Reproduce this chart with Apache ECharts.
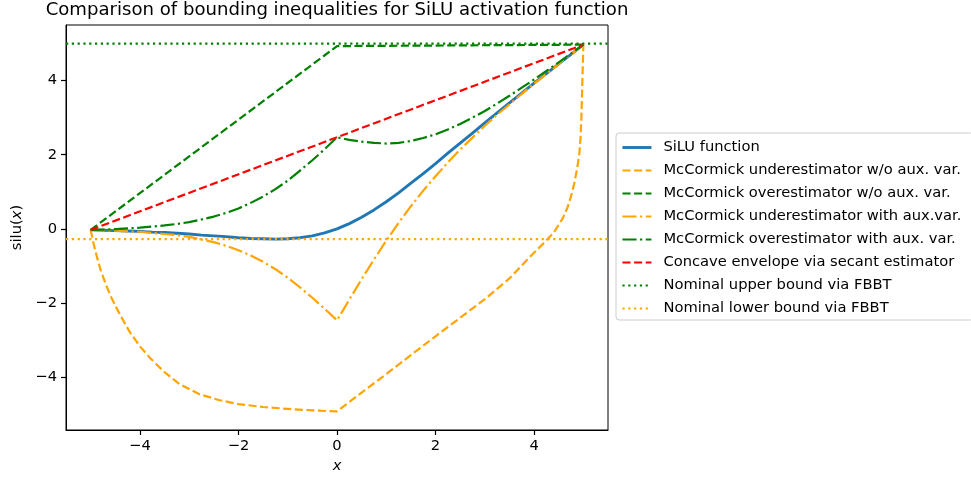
<!DOCTYPE html>
<html>
<head>
<meta charset="utf-8">
<title>SiLU bounding inequalities</title>
<script src="https://cdn.jsdelivr.net/npm/echarts@6/dist/echarts.min.js"></script>
<style>
  html, body { margin: 0; padding: 0; background: #fff; }
  #chart { width: 971px; height: 479px; }
</style>
</head>
<body>
<div id="chart"></div>
<script>
// x grid shared by the smooth curves (step 0.25)
const xGrid = [-5, -4.75, -4.5, -4.25, -4, -3.75, -3.5, -3.25, -3, -2.75, -2.5, -2.25, -2, -1.75, -1.5, -1.25, -1, -0.75, -0.5, -0.25,
  0, 0.25, 0.5, 0.75, 1, 1.25, 1.5, 1.75, 2, 2.25, 2.5, 2.75, 3, 3.25, 3.5, 3.75, 4, 4.25, 4.5, 4.75, 5];

const siluY = [-0.03, -0.04, -0.05, -0.06, -0.07, -0.09, -0.10, -0.12, -0.14, -0.17, -0.19, -0.21, -0.24, -0.26, -0.27, -0.28, -0.27, -0.24, -0.19, -0.11,
  0, 0.14, 0.31, 0.51, 0.73, 0.97, 1.23, 1.49, 1.76, 2.04, 2.31, 2.58, 2.86, 3.13, 3.40, 3.66, 3.93, 4.19, 4.45, 4.71, 4.97];

// McCormick with aux. variable
const overAuxY = [-0.03, -0.02, -0.01, 0.01, 0.03, 0.06, 0.09, 0.13, 0.18, 0.25, 0.33, 0.43, 0.55, 0.70, 0.87, 1.07, 1.30, 1.57, 1.85, 2.15,
  2.47, 2.40, 2.35, 2.32, 2.30, 2.32, 2.37, 2.45, 2.55, 2.68, 2.83, 3.00, 3.18, 3.38, 3.59, 3.81, 4.03, 4.26, 4.49, 4.73, 4.97];
const underAuxY = [-0.03, -0.04, -0.05, -0.07, -0.08, -0.11, -0.14, -0.17, -0.22, -0.29, -0.36, -0.46, -0.58, -0.72, -0.89, -1.09, -1.32, -1.58, -1.86, -2.16,
  -2.47, -1.91, -1.36, -0.83, -0.32, 0.16, 0.61, 1.03, 1.42, 1.79, 2.14, 2.46, 2.78, 3.08, 3.36, 3.64, 3.92, 4.18, 4.45, 4.71, 4.97];

// McCormick w/o aux. variable
const underX = [-5, -4.95, -4.9, -4.8, -4.7, -4.6, -4.5, -4.4, -4.2, -4.0, -3.8, -3.5, -3.2, -2.8, -2.4, -2.0, -1.5, -1.0, -0.5, 0,
  0.5, 1.0, 1.5, 2.0, 2.5, 3.0, 3.5, 3.9, 4.2, 4.4, 4.58, 4.68, 4.75, 4.82, 4.88, 4.92, 4.94, 4.96, 4.98, 5.0];
const underY = [-0.03, -0.34, -0.62, -1.1, -1.47, -1.8, -2.07, -2.33, -2.8, -3.17, -3.48, -3.87, -4.19, -4.46, -4.62, -4.73, -4.81, -4.86, -4.9, -4.93,
  -4.42, -3.92, -3.41, -2.9, -2.4, -1.9, -1.34, -0.78, -0.38, -0.1, 0.28, 0.58, 0.88, 1.25, 1.68, 2.05, 2.4, 3.0, 4.0, 4.97];
const overX = [-5, 0, 5];
const overY = [-0.03, 4.93, 4.97];

// secant (concave envelope)
const secantX = [-5, 5];
const secantY = [-0.03, 4.97];

// nominal FBBT bounds (horizontal lines over the whole axis)
const upperBound = 5.0;
const lowerBound = -0.28;

const xLim = [-5.5, 5.5];
const yLim = [-5.43, 5.5];
const ticks = [-4, -2, 0, 2, 4];

const names = [
  'SiLU function',
  'McCormick underestimator w/o aux. var.',
  'McCormick overestimator w/o aux. var.',
  'McCormick underestimator with aux.var.',
  'McCormick overestimator with aux. var.',
  'Concave envelope via secant estimator',
  'Nominal upper bound via FBBT',
  'Nominal lower bound via FBBT'
];

const FONT = 'DejaVu Sans';
const DASHED = [8.1, 3.5];
const DASHDOT = [14.1, 3.5, 2.2, 3.5];
const DOTTED = [2.2, 3.6];

function pairs(xs, ys) {
  return xs.map((x, i) => [x, ys[i]]);
}
function fmt(v) {
  return v < 0 ? '\u2212' + Math.abs(v) : String(v);
}
function lineSeries(name, data, color, width, type) {
  return {
    name: name,
    type: 'line',
    data: data,
    showSymbol: false,
    symbol: 'none',
    smooth: false,
    clip: true,
    lineStyle: { color: color, width: width, type: type, cap: 'butt', join: 'round' },
    itemStyle: { color: color },
    emphasis: { disabled: true }
  };
}
function axisCommon() {
  return {
    axisLine: { show: true, onZero: false, lineStyle: { color: '#000', width: 1 } },
    axisTick: { show: true, inside: false, length: 5, customValues: ticks, lineStyle: { color: '#000', width: 1.2 } },
    axisLabel: { customValues: ticks, formatter: fmt, margin: 9, fontFamily: FONT, fontSize: 14.7, color: '#000' },
    splitLine: { show: false }
  };
}

const chart = echarts.init(document.getElementById('chart'), null, { renderer: 'canvas' });
chart.setOption({
  animation: false,
  backgroundColor: '#fff',
  title: {
    text: 'Comparison of bounding inequalities for SiLU activation function',
    left: 337,
    textAlign: 'center',
    top: 1,
    padding: 0,
    textStyle: { fontFamily: FONT, fontSize: 18.1, fontWeight: 'normal', color: '#000' }
  },
  grid: {
    left: 66, right: 363, top: 25, bottom: 49,
    show: true, borderColor: '#000', borderWidth: 1, backgroundColor: 'transparent'
  },
  legend: {
    orient: 'vertical',
    left: 616,
    top: 133,
    padding: [7, 12, 4, 5],
    itemWidth: 29,
    itemHeight: 14,
    itemGap: 8,
    backgroundColor: '#fff',
    borderColor: '#cccccc',
    borderWidth: 1,
    borderRadius: 3,
    data: names,
    itemStyle: { opacity: 0, borderWidth: 0 },
    lineStyle: { width: 'inherit' },
    textStyle: { fontFamily: FONT, fontSize: 14.7, color: '#000', padding: [0, 0, 0, 7] }
  },
  xAxis: Object.assign({
    type: 'value',
    min: xLim[0],
    max: xLim[1],
    name: 'x',
    nameLocation: 'middle',
    nameGap: 26,
    nameTextStyle: { fontFamily: FONT, fontSize: 14.7, fontStyle: 'italic', color: '#000' }
  }, axisCommon()),
  yAxis: Object.assign({
    type: 'value',
    min: yLim[0],
    max: yLim[1],
    name: 'silu({i|x})',
    nameLocation: 'middle',
    nameRotate: 90,
    nameGap: 40,
    nameTextStyle: {
      fontFamily: FONT, fontSize: 14.7, color: '#000',
      rich: { i: { fontFamily: FONT, fontSize: 14.7, fontStyle: 'italic', color: '#000' } }
    }
  }, axisCommon()),
  series: [
    lineSeries(names[0], pairs(xGrid, siluY), '#1f77b4', 2.9, 'solid'),
    lineSeries(names[1], pairs(underX, underY), '#ffa500', 2.2, DASHED),
    lineSeries(names[2], pairs(overX, overY), '#008000', 2.2, DASHED),
    lineSeries(names[3], pairs(xGrid, underAuxY), '#ffa500', 2.2, DASHDOT),
    lineSeries(names[4], pairs(xGrid, overAuxY), '#008000', 2.2, DASHDOT),
    lineSeries(names[5], pairs(secantX, secantY), '#ff0000', 2.2, DASHED),
    lineSeries(names[6], pairs(xLim, [upperBound, upperBound]), '#008000', 2.2, DOTTED),
    lineSeries(names[7], pairs(xLim, [lowerBound, lowerBound]), '#ffa500', 2.2, DOTTED)
  ]
});
</script>
</body>
</html>
